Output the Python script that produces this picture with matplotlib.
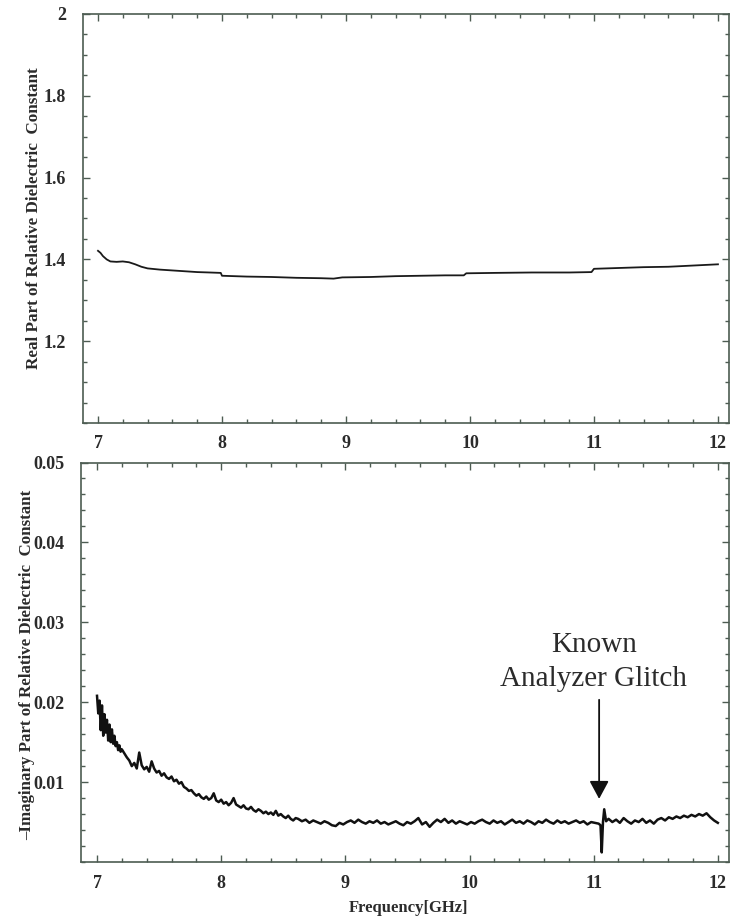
import numpy as np
import matplotlib
matplotlib.use("Agg")
import matplotlib.pyplot as plt
from matplotlib.ticker import MultipleLocator

plt.rcParams['font.family'] = ['Liberation Serif', 'DejaVu Serif']

# real part
freq_real = [7.00, 7.02, 7.04, 7.07, 7.10, 7.15, 7.20, 7.25, 7.30, 7.35,
             7.40, 7.50, 7.60, 7.70, 7.80, 7.90, 7.99, 8.00, 8.20, 8.40,
             8.60, 8.80, 8.90, 8.97, 9.20, 9.40, 9.60, 9.80, 9.95, 9.97,
             10.20, 10.50, 10.80, 10.98, 11.00, 11.20, 11.40, 11.60, 11.80, 12.00]
eps_real = [1.421, 1.416, 1.408, 1.400, 1.395, 1.394, 1.395, 1.393, 1.388, 1.382,
            1.378, 1.375, 1.373, 1.371, 1.369, 1.368, 1.367, 1.360, 1.358, 1.357,
            1.355, 1.354, 1.353, 1.356, 1.357, 1.359, 1.360, 1.361, 1.361, 1.366,
            1.367, 1.368, 1.368, 1.369, 1.377, 1.379, 1.381, 1.382, 1.385, 1.388]

# -imaginary part, noisy trace in pieces
imag_a = [0.0208, 0.0186, 0.0202, 0.0165, 0.0196, 0.0158, 0.0185, 0.0162, 0.0178, 0.0152,
          0.0172, 0.0150, 0.0166, 0.0148, 0.0158, 0.0145, 0.0150, 0.0140, 0.0146, 0.0138,
          0.0141]                                   # 7.00 .. 7.20
imag_b = [0.0136, 0.0131, 0.0127, 0.0120, 0.0124, 0.0117, 0.0137, 0.0121, 0.0116, 0.0119,
          0.0113, 0.0126, 0.0117, 0.0112, 0.0114, 0.0108, 0.0111, 0.0106, 0.0104, 0.0107,
          0.0101, 0.0103, 0.0098, 0.0100, 0.0094, 0.0092, 0.0089, 0.0090, 0.0086, 0.0083,
          0.0085, 0.0081, 0.0079, 0.0082, 0.0078, 0.0080, 0.0086, 0.0077, 0.0075, 0.0078,
          0.0073, 0.0075, 0.0071, 0.0074, 0.0080, 0.0072, 0.0070, 0.0068, 0.0071, 0.0067,
          0.0066, 0.0069, 0.0065, 0.0063, 0.0066, 0.0064, 0.0061, 0.0063, 0.0060, 0.0062,
          0.0059, 0.0064, 0.0058, 0.0060, 0.0057, 0.0055, 0.0058, 0.0054, 0.0052, 0.0055]  # 7.22 .. 8.60
imag_c = [0.0054, 0.0051, 0.0053, 0.0049, 0.0052, 0.0050, 0.0048, 0.0051, 0.0049, 0.0046,
          0.0045, 0.0049, 0.0047, 0.0050, 0.0052, 0.0049, 0.0053, 0.0050, 0.0048, 0.0051,
          0.0049, 0.0052, 0.0048, 0.0050, 0.0047, 0.0049, 0.0051, 0.0048, 0.0046, 0.0050,
          0.0048, 0.0051, 0.0055, 0.0047, 0.0050, 0.0044, 0.0049, 0.0053, 0.0050, 0.0054,
          0.0049, 0.0052, 0.0048, 0.0051, 0.0049, 0.0047, 0.0050, 0.0048, 0.0051, 0.0053,
          0.0050, 0.0048, 0.0052, 0.0049, 0.0051, 0.0047, 0.0050, 0.0053, 0.0049, 0.0051,
          0.0048, 0.0052, 0.0050, 0.0047, 0.0051, 0.0049, 0.0053, 0.0050, 0.0048, 0.0052,
          0.0049, 0.0051, 0.0048, 0.0050, 0.0052, 0.0049, 0.0051, 0.0047, 0.0050, 0.0049,
          0.0048]                                   # 8.62 .. 11.04
glitch_f = [11.055, 11.065, 11.075, 11.085, 11.10]
glitch_v = [0.0046, 0.0012, 0.0050, 0.0066, 0.0051]
imag_d = [0.0054, 0.0050, 0.0053, 0.0049, 0.0055, 0.0051, 0.0048, 0.0052, 0.0050, 0.0054,
          0.0049, 0.0052, 0.0048, 0.0053, 0.0055, 0.0052, 0.0056, 0.0054, 0.0057, 0.0055,
          0.0058, 0.0056, 0.0059, 0.0057, 0.0060, 0.0058, 0.0061, 0.0056, 0.0052, 0.0049]  # 11.12 .. 12.00

freq_imag = np.concatenate([np.linspace(7.00, 7.20, len(imag_a)),
                            np.linspace(7.22, 8.60, len(imag_b)),
                            np.linspace(8.62, 11.04, len(imag_c)),
                            glitch_f,
                            np.linspace(11.12, 12.00, len(imag_d))])
eps_imag = np.concatenate([imag_a, imag_b, imag_c, glitch_v, imag_d])

INK = '#2b2b2b'
FRAME = '#4d5c52'

fig = plt.figure(figsize=(7.3, 9.18), dpi=100)
W, H = 730, 918
ax1 = fig.add_axes([83 / W, 1 - 423 / H, (729 - 83) / W, (423 - 14) / H])
ax2 = fig.add_axes([81 / W, 1 - 862 / H, (729 - 81) / W, (862 - 462.5) / H])


def style(ax):
    for s in ax.spines.values():
        s.set_color(FRAME)
        s.set_linewidth(1.2)
    ax.tick_params(which='both', direction='in', top=True, right=True,
                   colors=FRAME, labelcolor=INK, labelsize=13, width=1.0)
    ax.tick_params(which='major', length=5)
    ax.tick_params(which='minor', length=3)
    ax.xaxis.set_major_locator(MultipleLocator(1))
    ax.xaxis.set_minor_locator(MultipleLocator(0.2))
    for lab in ax.get_xticklabels() + ax.get_yticklabels():
        lab.set_fontweight('bold')


# upper panel
ax1.plot(freq_real, eps_real, color='#1a1a1a', lw=1.3)
ax1.set_xlim(6.879, 12.089)
ax1.set_ylim(1.0, 2.0)
ax1.set_yticks([1.2, 1.4, 1.6, 1.8, 2.0])
ax1.set_yticklabels(['1.2', '1.4', '1.6', '1.8', '2'])
ax1.yaxis.set_minor_locator(MultipleLocator(0.05))
ax1.set_xticks([7, 8, 9, 10, 11, 12])
style(ax1)
ax1.tick_params(axis='x', pad=9)
ax1.tick_params(axis='y', pad=12)
ax1.set_ylabel('Real Part of Relative Dielectric  Constant', fontsize=12.3,
               fontweight='bold', color=INK)
ax1.yaxis.set_label_coords(-0.0635, 0.5)

# lower panel
ax2.plot(freq_imag, eps_imag, color='#111111', lw=1.8)
ax2.set_xlim(6.871, 12.09)
ax2.set_ylim(0.0, 0.05)
ax2.set_yticks([0.01, 0.02, 0.03, 0.04, 0.05])
ax2.set_yticklabels(['0.01', '0.02', '0.03', '0.04', '0.05'])
ax2.yaxis.set_minor_locator(MultipleLocator(0.002))
ax2.set_xticks([7, 8, 9, 10, 11, 12])
style(ax2)
ax2.tick_params(axis='x', pad=9)
ax2.tick_params(axis='y', pad=12)
ax2.set_ylabel('\u2013Imaginary Part of Relative Dielectric  Constant', fontsize=12.2,
               fontweight='bold', color=INK)
ax2.yaxis.set_label_coords(-0.071, 0.493)
ax2.set_xlabel('Frequency[GHz]', fontsize=12, fontweight='bold', color=INK)
ax2.xaxis.set_label_coords(0.505, -0.095)

ax2.text(11.0, 0.0250, 'Known\nAnalyzer Glitch', ha='center', va='center',
         fontsize=21, color=INK, linespacing=1.42)
ax2.annotate('', xy=(11.044, 0.0079), xytext=(11.044, 0.0203),
             arrowprops=dict(arrowstyle='-|>,head_width=0.42,head_length=0.78',
                             mutation_scale=14, color='#111111', lw=1.3,
                             shrinkA=0, shrinkB=0))

fig.savefig('out.png', dpi=100)
